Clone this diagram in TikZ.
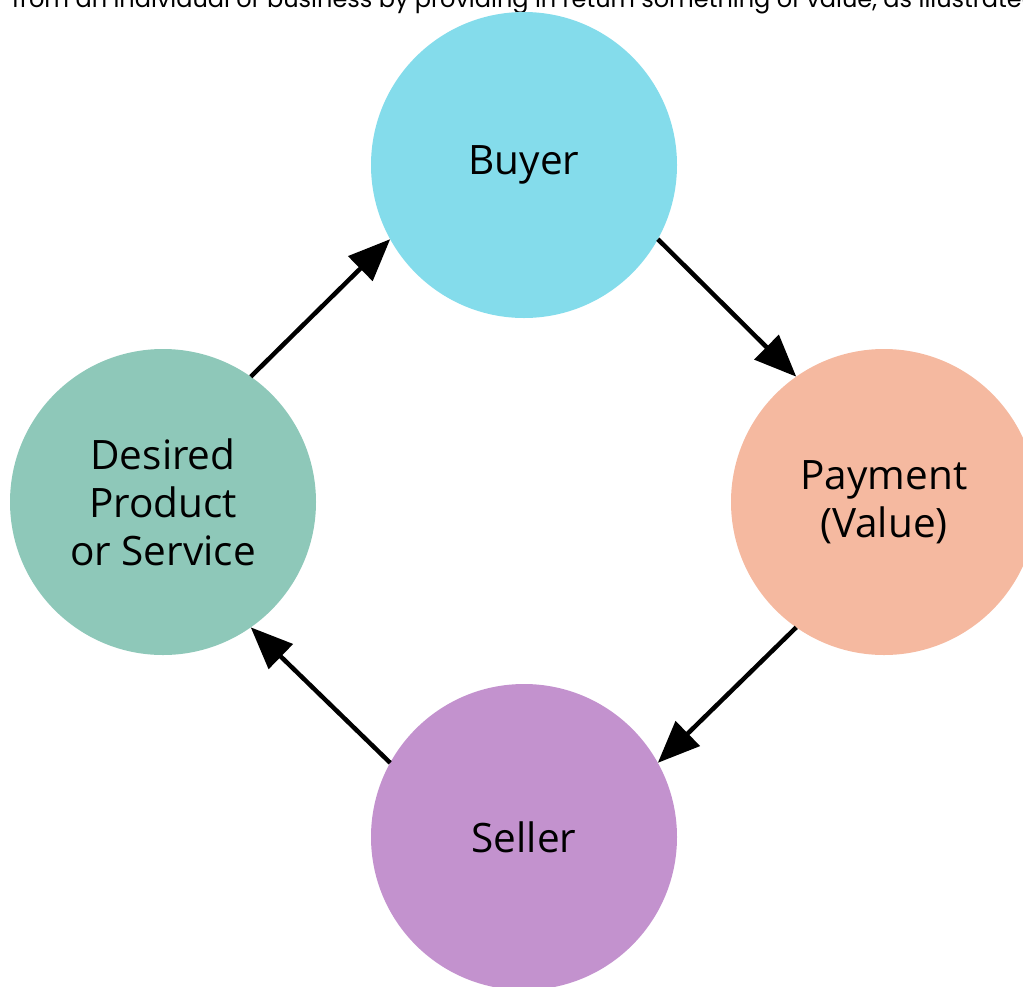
\documentclass[tikz,border=0pt]{standalone}
\usepackage{fontspec}
\setmainfont{Open Sans}
\newfontfamily\topfont{Poppins}
\usetikzlibrary{arrows.meta}
\definecolor{buyerc}{RGB}{132,220,235}
\definecolor{paymentc}{RGB}{245,185,160}
\definecolor{sellerc}{RGB}{195,146,206}
\definecolor{desiredc}{RGB}{142,200,185}
\tikzset{
  party/.style={circle, minimum size=306pt, inner sep=0pt, outer sep=0pt,
    align=center, font=\fontsize{40.5}{48}\selectfont, text=black},
  flow/.style={line width=4.5pt, -{Triangle[length=42pt,width=34pt]}}
}
\begin{document}
\begin{tikzpicture}[x=1pt,y=-1pt]
\useasboundingbox (0,0) rectangle (1023,986);
\clip (0,0) rectangle (1023,986);
\node[anchor=base west, inner sep=0pt, font=\topfont\fontsize{24}{28}\selectfont] (intro) at (12,7)
  {from an individual or business by providing in return something of value, as illustrated};
\node[party, fill=buyerc] (buyer) at (524,165) {Buyer};
\node[party, fill=paymentc] (payment) at (884,502) {Payment\\(Value)};
\node[party, fill=sellerc] (seller) at (524,837) {Seller};
\node[party, fill=desiredc] (desired) at (163,502) {Desired\\Product\\or Service};
\draw[flow] (desired.55) -- (buyer.209);
\draw[flow] (buyer.-29) -- (payment.125);
\draw[flow] (payment.235) -- (seller.29);
\draw[flow] (seller.151) -- (desired.305);
\end{tikzpicture}
\end{document}
